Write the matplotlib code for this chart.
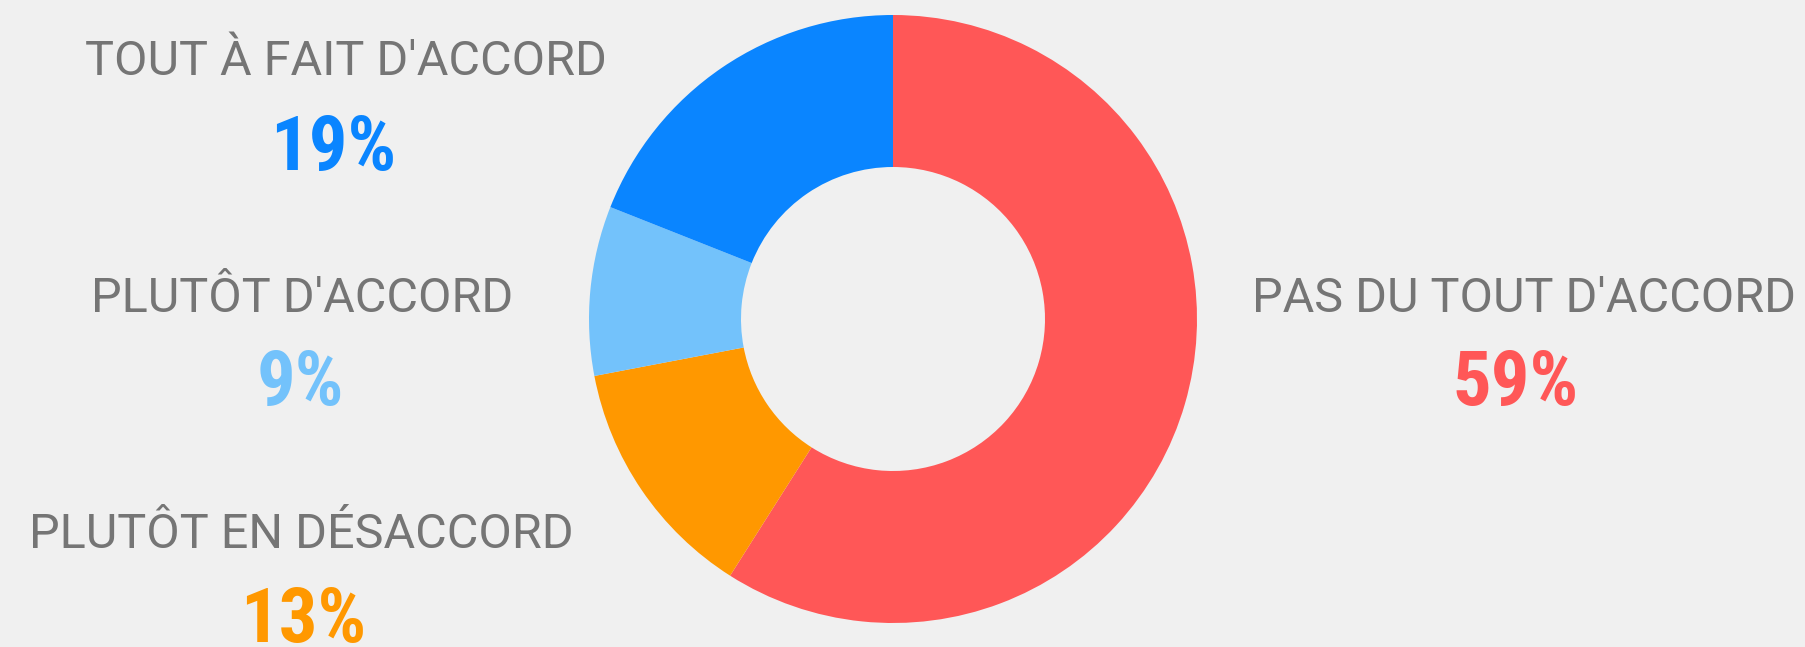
import matplotlib
matplotlib.use("Agg")
import matplotlib.pyplot as plt
from matplotlib import font_manager

categories = ["PAS DU TOUT D'ACCORD", "PLUTÔT EN DÉSACCORD", "PLUTÔT D'ACCORD", "TOUT À FAIT D'ACCORD"]
values = [59, 13, 9, 19]
colors = ["#FF5757", "#FF9800", "#73C2FB", "#0A85FF"]

W, H = 1805, 647
BG = "#F0F0F0"
GRAY = "#757575"

def pick(names):
    for n in names:
        try:
            font_manager.findfont(font_manager.FontProperties(family=n), fallback_to_default=False)
            return n
        except Exception:
            pass
    return "DejaVu Sans"

label_font = pick(["Roboto", "Liberation Sans"])
num_font = pick(["Roboto Condensed", "Roboto", "Liberation Sans"])

fig = plt.figure(figsize=(W / 100, H / 100), dpi=100, facecolor=BG)

cx, cy, r = 893, 319, 304
ax = fig.add_axes([(cx - r) / W, (H - cy - r) / H, 2 * r / W, 2 * r / H])
ax.set_facecolor(BG)
ax.pie(values, colors=colors, startangle=90, counterclock=False,
       radius=1.0, wedgeprops=dict(width=0.5, linewidth=0))
ax.set_xlim(-1, 1)
ax.set_ylim(-1, 1)
ax.set_aspect("equal")
ax.axis("off")

# label positions (pixel coords: label center x, label baseline y, number center x, number baseline y)
positions = {
    "PAS DU TOUT D'ACCORD": (1524, 312, 1516, 405),
    "PLUTÔT EN DÉSACCORD": (301, 548, 303, 642),
    "PLUTÔT D'ACCORD": (302, 312, 300, 405),
    "TOUT À FAIT D'ACCORD": (346, 75, 333, 170),
}

for cat, val, col in zip(categories, values, colors):
    xl, yl, xn, yn = positions[cat]
    fig.text(xl / W, 1 - yl / H, cat, ha="center", va="baseline",
             fontsize=35, color=GRAY, family=label_font)
    fig.text(xn / W, 1 - yn / H, f"{val}%", ha="center", va="baseline",
             fontsize=55, color=col, family=num_font, fontweight="bold")

fig.savefig("out.png", dpi=100, facecolor=BG)
